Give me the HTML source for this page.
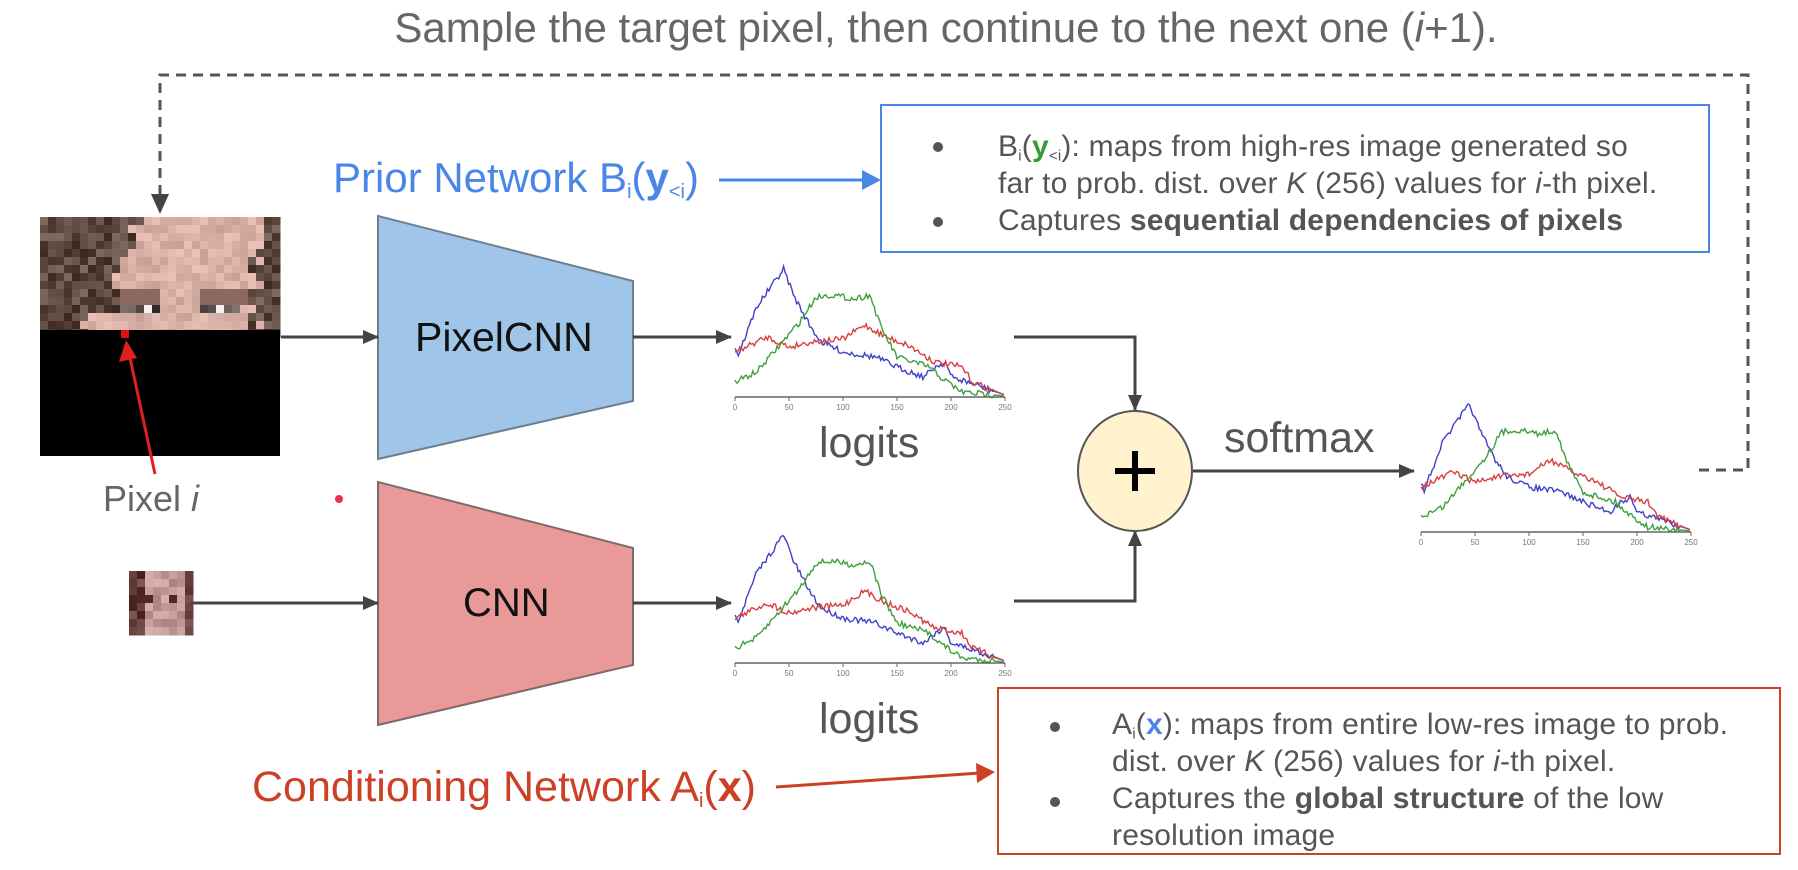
<!DOCTYPE html>
<html><head><meta charset="utf-8">
<style>
html,body{margin:0;padding:0;background:#fff;}
body{width:1798px;height:870px;position:relative;overflow:hidden;font-family:"Liberation Sans",sans-serif;}
.t{position:absolute;white-space:nowrap;}
sub{line-height:0;vertical-align:-0.3em;}
</style></head>
<body>
<svg id="s" width="1798" height="870" style="position:absolute;left:0;top:0">
<defs>
<marker id="ag" markerWidth="16" markerHeight="16" refX="15" refY="8" orient="auto" markerUnits="userSpaceOnUse" viewBox="0 0 16 16"><path d="M0,1 L16,8 L0,15z" fill="#444"/></marker>
</defs>
<path d="M1699,470 H1748 V75 H160 V196" fill="none" stroke="#555" stroke-width="3" stroke-dasharray="10,7"/>
<path d="M151,194 L169,194 L160,214z" fill="#444"/>
<g id="face"></g>
<rect x="40" y="330" width="240" height="126" fill="#000"/>
<rect x="121" y="330" width="8" height="8" fill="#e01010"/>
<g id="small"></g>
<line x1="155" y1="474" x2="130" y2="358" stroke="#e02020" stroke-width="3"/>
<path d="M119,362 L137,358 L126,340z" fill="#e02020"/>
<circle cx="339" cy="499" r="4" fill="#e8314a"/>
<path d="M378,216 L633,281 L633,401 L378,459z" fill="#9fc5e8" stroke="#6d7f8f" stroke-width="2"/>
<path d="M378,482 L633,548 L633,665 L378,725z" fill="#ea9999" stroke="#7f6a6a" stroke-width="2"/>
<line x1="281" y1="337" x2="378" y2="337" stroke="#444" stroke-width="3" marker-end="url(#ag)"/>
<line x1="633" y1="337" x2="731" y2="337" stroke="#444" stroke-width="3" marker-end="url(#ag)"/>
<line x1="191" y1="603" x2="378" y2="603" stroke="#444" stroke-width="3" marker-end="url(#ag)"/>
<line x1="633" y1="603" x2="731" y2="603" stroke="#444" stroke-width="3" marker-end="url(#ag)"/>
<path d="M1014,337 H1135 V410" fill="none" stroke="#444" stroke-width="3" marker-end="url(#ag)"/>
<path d="M1014,601 H1135 V531" fill="none" stroke="#444" stroke-width="3" marker-end="url(#ag)"/>
<line x1="1193" y1="471" x2="1414" y2="471" stroke="#444" stroke-width="3" marker-end="url(#ag)"/>
<ellipse cx="1135" cy="471" rx="57" ry="60" fill="#fff2cc" stroke="#555" stroke-width="2"/>
<path d="M1135,451 V491 M1115,471 H1155" stroke="#000" stroke-width="6"/>
<g id="c1" transform="translate(730,267)"></g>
<g id="c2" transform="translate(730,533)"></g>
<g id="c3" transform="translate(1416,402)"></g>
<rect x="881" y="105" width="828" height="147" fill="#fff" stroke="#4a86e8" stroke-width="2"/>
<rect x="998" y="688" width="782" height="166" fill="#fff" stroke="#cc4125" stroke-width="2"/>
<line x1="719" y1="180" x2="866" y2="180" stroke="#4a86e8" stroke-width="3"/>
<path d="M862,170 L881,180 L862,190z" fill="#4a86e8"/>
<line x1="776" y1="787" x2="980" y2="773" stroke="#cc4125" stroke-width="3"/>
<path d="M976,763 L995,772 L977,783z" fill="#cc4125"/>
<g fill="#555"><circle cx="938" cy="147" r="5"/><circle cx="938" cy="222" r="5"/><circle cx="1055" cy="727" r="5"/><circle cx="1055" cy="802" r="5"/></g>
</svg>

<div class="t" style="left:0;width:1892px;text-align:center;top:4px;font-size:42px;color:#666;">Sample the target pixel, then continue to the next one (<i>i</i>+1).</div>
<div class="t" style="left:103px;top:478px;font-size:36px;color:#666;">Pixel <i>i</i></div>
<div class="t" style="left:415px;top:314px;font-size:41px;color:#111;">PixelCNN</div>
<div class="t" style="left:463px;top:581px;font-size:40px;color:#111;">CNN</div>
<div class="t" style="left:819px;top:419px;font-size:43px;color:#555;">logits</div>
<div class="t" style="left:819px;top:695px;font-size:43px;color:#555;">logits</div>
<div class="t" style="left:1224px;top:414px;font-size:43px;color:#555;">softmax</div>
<div class="t" style="left:333px;top:154px;font-size:42px;color:#4a86e8;">Prior Network B<sub style="font-size:20px">i</sub>(<b>y</b><sub style="font-size:20px">&lt;i</sub>)</div>
<div class="t" style="left:252px;top:763px;font-size:43px;color:#cc4125;">Conditioning Network A<sub style="font-size:20px">i</sub>(<b>x</b>)</div>
<div class="t" style="left:998px;top:128px;font-size:30px;color:#555;line-height:37px;letter-spacing:0.2px;">B<sub style="font-size:15px">i</sub>(<b style="color:#3a9a3a">y</b><sub style="font-size:15px">&lt;i</sub>): maps from high-res image generated so<br>far to prob. dist. over <i>K</i> (256) values for <i>i</i>-th pixel.<br>Captures <b>sequential dependencies of pixels</b></div>
<div class="t" style="left:1112px;top:706px;font-size:30px;color:#555;line-height:37px;letter-spacing:0.2px;">A<sub style="font-size:15px">i</sub>(<b style="color:#4a86e8">x</b>): maps from entire low-res image to prob.<br>dist. over <i>K</i> (256) values for <i>i</i>-th pixel.<br>Captures the <b>global structure</b> of the low<br>resolution image</div>

<script>
var NS="http://www.w3.org/2000/svg";
var seed=7;function rnd(){seed=(seed*16807)%2147483647;return seed/2147483647;}
function el(t,a,p){var e=document.createElementNS(NS,t);for(var k in a)e.setAttribute(k,a[k]);p.appendChild(e);return e;}
var f=document.getElementById('face');
for(var r=0;r<15;r++)for(var c=0;c<30;c++){
 var x=40+c*8,y=217+r*8;var col;
 var edge=(r<7)?(11-r*0.4):(r<12?8:4);
 var hair=(c<edge+rnd()*2)||c>27||(c>25&&r>3&&rnd()<0.6);
 if(hair){var v=40+rnd()*70;col="rgb("+(v+20|0)+","+(v|0)+","+(v-10|0)+")";}
 else{var b=200+rnd()*35;col="rgb("+(b|0)+","+(b-40|0)+","+(b-50|0)+")";}
 if(r==11&&(c>=10&&c<=14||c>=20&&c<=24)){var d=rnd()*90;col="rgb("+(40+d|0)+","+(30+d|0)+","+(30+d|0)+")";}
 if(r==11&&(c==13||c==22))col="#f0f0f0";
 if((r==9||r==10)&&(c>=10&&c<=14||c>=20&&c<=25)){col="rgb(140,105,95)";}
 el('rect',{x:x,y:y,width:8.5,height:8.5,fill:col},f);
}
var s=document.getElementById('small');
for(var r=0;r<8;r++)for(var c=0;c<8;c++){
 var b=(c<2||c>6)?70+rnd()*60:170+rnd()*50;if(r==3&&(c==2||c==5))b=80;
 el('rect',{x:129+c*8,y:571+r*8,width:8.5,height:8.5,fill:"rgb("+(b|0)+","+(b-40|0)+","+(b-45|0)+")"},s);
}
var B=[[0,80],[3,88],[20,40],[45,2],[55,30],[70,60],[80,75],[100,85],[130,90],[150,100],[175,110],[185,100],[195,95],[200,110],[215,115],[250,128]];
var G=[[0,115],[20,105],[40,80],[60,55],[75,30],[90,28],[110,32],[125,28],[135,60],[150,90],[180,100],[190,110],[210,125],[250,129]];
var R=[[0,85],[20,75],[30,70],[40,75],[50,80],[70,75],[100,72],[120,58],[140,70],[160,78],[185,95],[210,100],[220,115],[250,128]];
function interp(P,v){for(var i=0;i<P.length-1;i++){if(v<=P[i+1][0]){var t=(v-P[i][0])/(P[i+1][0]-P[i][0]);return P[i][1]+t*(P[i+1][1]-P[i][1]);}}return P[P.length-1][1];}
function chart(id,sx,sy){
 var g=document.getElementById(id);
 [[B,"#4040c8"],[R,"#d84040"],[G,"#40a040"]].forEach(function(q){
  var d="";for(var v=0;v<=250;v+=1.5){var y=interp(q[0],v)+(v<240?(rnd()-0.5)*6:0);d+=(v?"L":"M")+(5+v*1.08*sx).toFixed(1)+","+(y*sy).toFixed(1);}
  el('path',{d:d,fill:"none",stroke:q[1],"stroke-width":1.4},g);
 });
 el('line',{x1:5,y1:130*sy,x2:5+270*sx,y2:130*sy,stroke:"#666","stroke-width":1.5},g);
 for(var k=0;k<=5;k++){var xx=5+k*54*sx;el('line',{x1:xx,y1:130*sy,x2:xx,y2:130*sy+4,stroke:"#666"},g);
  var t=el('text',{x:xx,y:130*sy+13,"font-size":8,"text-anchor":"middle",fill:"#777","font-family":"Liberation Sans"},g);t.textContent=k*50;}
}
chart('c1',1,1);chart('c2',1,1);chart('c3',1,1.0);
</script>
</body></html>
